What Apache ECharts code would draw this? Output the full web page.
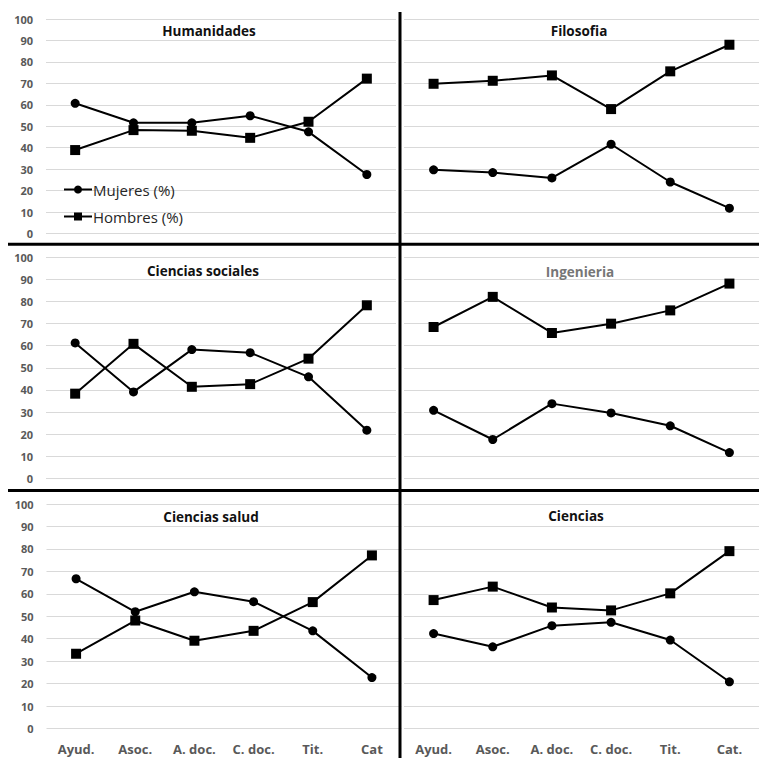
<!DOCTYPE html>
<html>
<head>
<meta charset="utf-8">
<script src="https://cdn.jsdelivr.net/npm/echarts@6/dist/echarts.min.js"></script>
<style>
html,body{margin:0;padding:0;background:#fff;}
#chart{width:759px;height:758px;}
</style>
</head>
<body>
<div id="chart"></div>
<script>
const categories = ['Ayud.', 'Asoc.', 'A. doc.', 'C. doc.', 'Tit.', 'Cat.'];
const categoriesSalud = ['Ayud.', 'Asoc.', 'A. doc.', 'C. doc.', 'Tit.', 'Cat'];
const yTicks = [0, 10, 20, 30, 40, 50, 60, 70, 80, 90, 100];
const seriesNames = ['Mujeres (%)', 'Hombres (%)'];
const panelTitles = ['Humanidades', 'Filosofia', 'Ciencias sociales', 'Ingenieria', 'Ciencias salud', 'Ciencias'];

const humMujeres = [60.7, 51.6, 51.6, 54.9, 47.4, 27.5];
const humHombres = [38.9, 48.2, 47.9, 44.6, 52.1, 72.2];
const filMujeres = [29.7, 28.4, 25.9, 41.6, 24.0, 11.8];
const filHombres = [69.8, 71.2, 73.7, 58.0, 75.6, 88.0];
const socMujeres = [61.2, 39.1, 58.2, 56.8, 45.9, 21.8];
const socHombres = [38.3, 60.8, 41.4, 42.6, 54.1, 78.2];
const ingMujeres = [30.8, 17.6, 33.8, 29.6, 23.8, 11.7];
const ingHombres = [68.4, 82.0, 65.7, 69.9, 75.9, 88.0];
const salMujeres = [66.7, 52.0, 60.9, 56.5, 43.5, 22.7];
const salHombres = [33.3, 48.1, 39.1, 43.5, 56.3, 77.1];
const ciMujeres = [42.3, 36.4, 45.8, 47.3, 39.4, 20.8];
const ciHombres = [57.2, 63.2, 53.9, 52.6, 60.2, 79.0];

const panelData = [
  [humMujeres, humHombres],
  [filMujeres, filHombres],
  [socMujeres, socHombres],
  [ingMujeres, ingHombres],
  [salMujeres, salHombres],
  [ciMujeres, ciHombres]
];

const FONT = '"Open Sans", Lato, sans-serif';
const grids = [
  {left: 46, width: 350, top: 19, height: 214.5},
  {left: 404, width: 360, top: 19, height: 214.5},
  {left: 46, width: 350, top: 257, height: 221.5},
  {left: 404, width: 360, top: 257, height: 221.5},
  {left: 46.5, width: 355, top: 504, height: 224.5},
  {left: 404, width: 360, top: 504, height: 224.5}
];
const titlePos = [[209, 31], [579, 31], [203, 271], [580, 272], [211, 517], [576, 516]];
const titleColors = ['#111', '#111', '#111', '#767676', '#111', '#111'];

const xAxes = [], yAxes = [], series = [];
grids.forEach((g, i) => {
  const isLeft = i % 2 === 0;
  const isBottom = i >= 4;
  xAxes.push({
    type: 'category', gridIndex: i, data: i === 4 ? categoriesSalud : categories,
    boundaryGap: true,
    axisLine: {show: false}, axisTick: {show: false},
    axisLabel: {show: isBottom, interval: 0, margin: 14, fontFamily: FONT, fontWeight: 'bold', fontSize: 13, color: '#595959'},
    splitLine: {show: false}
  });
  yAxes.push({
    type: 'value', gridIndex: i, min: yTicks[0], max: yTicks[yTicks.length - 1], interval: yTicks[1] - yTicks[0],
    axisLine: {show: false}, axisTick: {show: false},
    axisLabel: {show: isLeft, margin: 13, fontFamily: FONT, fontWeight: 'bold', fontSize: 11, color: '#595959'},
    splitLine: {show: true, lineStyle: {color: '#d9d9d9', width: 1.2}}
  });
  panelData[i].forEach((vals, k) => {
    series.push({
      name: seriesNames[k], type: 'line', xAxisIndex: i, yAxisIndex: i,
      data: vals,
      symbol: k === 0 ? 'circle' : 'rect',
      symbolSize: k === 0 ? 9 : 10,
      lineStyle: {color: '#000', width: 2},
      itemStyle: {color: '#000'},
      z: k === 0 ? 3 : 2
    });
  });
});

const graphics = [];
panelTitles.forEach((t, i) => {
  graphics.push({
    type: 'text', x: titlePos[i][0], y: titlePos[i][1], z: 10,
    style: {text: t, fill: titleColors[i], font: 'bold 13.5px ' + FONT, textAlign: 'center', textVerticalAlign: 'middle'}
  });
});
graphics.push({type: 'line', z: 20, shape: {x1: 8, y1: 244.3, x2: 759, y2: 244.3}, style: {stroke: '#000', lineWidth: 3}});
graphics.push({type: 'line', z: 20, shape: {x1: 8, y1: 490.5, x2: 759, y2: 490.5}, style: {stroke: '#000', lineWidth: 3}});
graphics.push({type: 'line', z: 20, shape: {x1: 400, y1: 12, x2: 400, y2: 758}, style: {stroke: '#000', lineWidth: 3}});

const chart = echarts.init(document.getElementById('chart'), null, {renderer: 'svg'});
chart.setOption({
  animation: false,
  backgroundColor: '#fff',
  grid: grids,
  xAxis: xAxes,
  yAxis: yAxes,
  legend: {
    data: seriesNames, orient: 'vertical', left: 58, top: 177,
    itemWidth: 28, itemHeight: 10, itemGap: 12,
    textStyle: {fontFamily: FONT, fontSize: 15, color: '#262626', padding: [0, 0, 0, -4]},
    inactiveColor: '#000'
  },
  series: series,
  graphic: graphics
});
</script>
</body>
</html>
